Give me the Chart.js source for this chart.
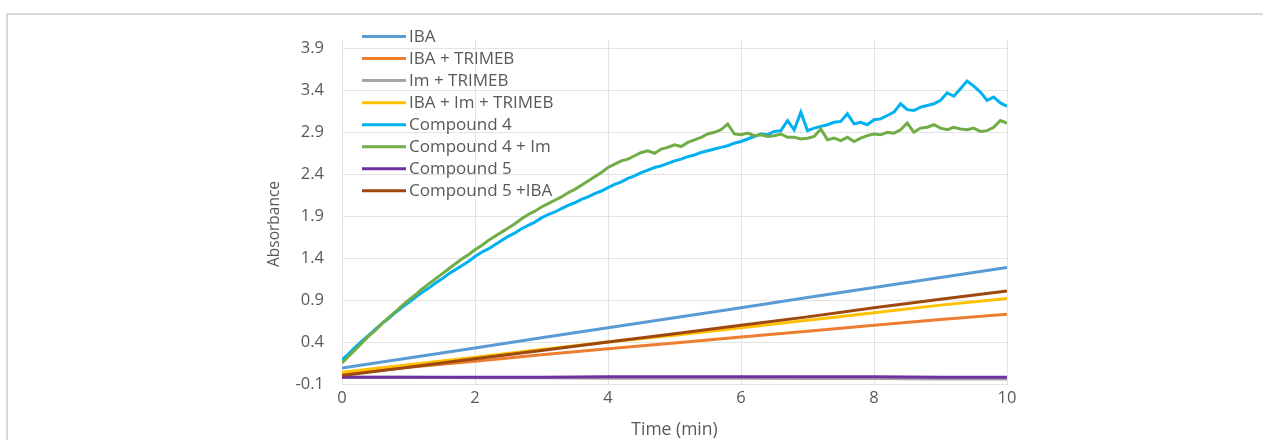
<!DOCTYPE html>
<html>
<head>
<meta charset="utf-8">
<script src="https://cdn.jsdelivr.net/npm/chart.js@4.4.1/dist/chart.umd.min.js"></script>
<style>
html,body{margin:0;padding:0;background:#fff;width:1263px;height:440px;overflow:hidden;}
#frame{position:absolute;left:6px;top:13px;width:1400px;height:600px;border:2px solid #d9d9d9;box-sizing:border-box;}
#wrap{position:absolute;left:0;top:0;width:1263px;height:440px;}
</style>
</head>
<body>
<div id="frame"></div>
<div id="wrap"><canvas id="c" width="1263" height="440"></canvas></div>
<script>
// ---- DATA ----
const seriesNames = ["IBA","IBA + TRIMEB","Im + TRIMEB","IBA + Im + TRIMEB","Compound 4","Compound 4 + Im","Compound 5","Compound 5 +IBA"];
const seriesColors = ["#5B9BD5","#ED7D31","#A5A5A5","#FFC000","#00B0F0","#70AD47","#7030A0","#9E480E"];
const xTitle = "Time (min)";
const yTitle = "Absorbance";

const timeCoarse = [0,1,2,3,4,5,6,7,8,9,10];
const iba        = [0.09,0.21,0.33,0.45,0.57,0.69,0.81,0.93,1.05,1.17,1.29];
const ibaTrimeb  = [0.02,0.10,0.17,0.25,0.32,0.39,0.46,0.53,0.60,0.67,0.73];
const imTrimeb   = [-0.02,-0.02,-0.025,-0.025,-0.03,-0.03,-0.03,-0.035,-0.035,-0.04,-0.04];
const ibaImTrimeb= [0.04,0.13,0.22,0.31,0.40,0.48,0.57,0.66,0.75,0.84,0.92];
const compound5  = [-0.02,-0.02,-0.02,-0.02,-0.015,-0.015,-0.015,-0.015,-0.015,-0.02,-0.02];
const compound5Iba=[0.00,0.10,0.20,0.30,0.40,0.50,0.60,0.70,0.81,0.91,1.01];

const timeFine = [0,0.1,0.2,0.3,0.4,0.5,0.6,0.7,0.8,0.9,1,1.1,1.2,1.3,1.4,1.5,1.6,1.7,1.8,1.9,2,2.1,2.2,2.3,2.4,2.5,2.6,2.7,2.8,2.9,3,3.1,3.2,3.3,3.4,3.5,3.6,3.7,3.8,3.9,4,4.1,4.2,4.3,4.4,4.5,4.6,4.7,4.8,4.9,5,5.1,5.2,5.3,5.4,5.5,5.6,5.7,5.8,5.9,6,6.1,6.2,6.3,6.4,6.5,6.6,6.7,6.8,6.9,7,7.1,7.2,7.3,7.4,7.5,7.6,7.7,7.8,7.9,8,8.1,8.2,8.3,8.4,8.5,8.6,8.7,8.8,8.9,9,9.1,9.2,9.3,9.4,9.5,9.6,9.7,9.8,9.9,10];
const compound4 = [0.19,0.26,0.34,0.41,0.48,0.55,0.62,0.68,0.75,0.81,0.87,0.93,0.99,1.04,1.10,1.15,1.21,1.26,1.31,1.36,1.42,1.47,1.51,1.56,1.61,1.66,1.70,1.75,1.79,1.83,1.88,1.92,1.95,1.99,2.03,2.06,2.10,2.13,2.17,2.20,2.24,2.28,2.31,2.35,2.38,2.42,2.45,2.48,2.50,2.53,2.56,2.58,2.61,2.63,2.66,2.68,2.70,2.72,2.74,2.77,2.79,2.82,2.85,2.88,2.87,2.91,2.92,3.04,2.93,3.14,2.92,2.95,2.97,2.99,3.02,3.03,3.12,3.00,3.02,2.99,3.05,3.06,3.10,3.14,3.24,3.17,3.16,3.20,3.22,3.24,3.28,3.37,3.33,3.42,3.51,3.45,3.38,3.28,3.32,3.25,3.21];
const compound4Im = [0.15,0.23,0.31,0.39,0.47,0.54,0.62,0.69,0.76,0.83,0.90,0.96,1.03,1.09,1.15,1.21,1.27,1.33,1.39,1.44,1.50,1.55,1.61,1.66,1.71,1.76,1.81,1.87,1.92,1.96,2.01,2.05,2.09,2.13,2.18,2.22,2.27,2.32,2.37,2.42,2.48,2.52,2.56,2.58,2.62,2.66,2.68,2.65,2.70,2.72,2.75,2.73,2.78,2.81,2.84,2.88,2.90,2.93,3.00,2.88,2.87,2.89,2.86,2.87,2.85,2.86,2.88,2.84,2.84,2.82,2.83,2.85,2.94,2.81,2.83,2.80,2.84,2.79,2.83,2.86,2.88,2.87,2.90,2.89,2.93,3.01,2.90,2.95,2.96,2.99,2.95,2.93,2.96,2.94,2.93,2.95,2.91,2.92,2.96,3.04,3.01];

const yTicks = [-0.1,0.4,0.9,1.4,1.9,2.4,2.9,3.4,3.9];
const xTicks = [0,2,4,6,8,10];

// ---- BUILD ----
const seriesData = [
  [timeCoarse, iba],
  [timeCoarse, ibaTrimeb],
  [timeCoarse, imTrimeb],
  [timeCoarse, ibaImTrimeb],
  [timeFine, compound4],
  [timeFine, compound4Im],
  [timeCoarse, compound5],
  [timeCoarse, compound5Iba]
];
const toXY = (xs, ys) => xs.map((x, i) => ({x: x, y: ys[i]}));
const datasets = seriesNames.map((name, i) => ({
  label: name,
  data: toXY(seriesData[i][0], seriesData[i][1]),
  borderColor: seriesColors[i],
  backgroundColor: seriesColors[i],
  borderWidth: 3,
  pointRadius: 0,
  tension: 0,
  fill: false,
  order: seriesNames.length - i
}));

const FONT = "'Open Sans', 'Noto Sans', sans-serif";
const TEXT = "#595959";
const GRID = "#e3e3e3";

const legendPlugin = {
  id: 'customLegend',
  afterDraw(chart) {
    const ctx = chart.ctx;
    ctx.save();
    ctx.font = "17px " + FONT;
    ctx.textBaseline = 'middle';
    ctx.textAlign = 'left';
    chart.data.datasets.forEach((ds, i) => {
      const y = 36.5 + i * 22.05;
      ctx.strokeStyle = ds.borderColor;
      ctx.lineWidth = 3;
      ctx.beginPath();
      ctx.moveTo(362, y);
      ctx.lineTo(406, y);
      ctx.stroke();
      ctx.fillStyle = TEXT;
      ctx.fillText(ds.label, 409, y + 0.5);
    });
    // y axis title
    ctx.translate(275, 224);
    ctx.rotate(-Math.PI / 2);
    ctx.textAlign = 'center';
    ctx.font = "15.5px " + FONT;
    ctx.fillText(yTitle, 0, 0);
    ctx.restore();
  }
};

new Chart(document.getElementById('c'), {
  type: 'line',
  data: { datasets: datasets },
  plugins: [legendPlugin],
  options: {
    responsive: false,
    animation: false,
    events: [],
    layout: { padding: { left: 262, right: 256, top: 40, bottom: 0 } },
    plugins: { legend: { display: false }, tooltip: { enabled: false } },
    scales: {
      x: {
        type: 'linear',
        min: 0, max: 10,
        afterBuildTicks: (axis) => { axis.ticks = xTicks.map(v => ({value: v})); },
        afterFit: (scale) => { scale.height = 56; },
        grid: { color: GRID, drawTicks: false, lineWidth: 1 },
        border: { color: GRID, width: 1 },
        ticks: { color: TEXT, font: { size: 16.5, family: FONT }, padding: 4 },
        title: { display: true, text: xTitle, color: TEXT, font: { size: 17.5, family: FONT, lineHeight: 1 }, padding: { top: 0, bottom: 1 } }
      },
      y: {
        type: 'linear',
        min: -0.1, max: 4.0,
        afterBuildTicks: (axis) => { axis.ticks = yTicks.map(v => ({value: v})); },
        afterFit: (scale) => { scale.width = 80; },
        grid: { color: GRID, drawTicks: false, lineWidth: 1 },
        border: { color: GRID, width: 1 },
        ticks: { color: TEXT, font: { size: 16.5, family: FONT }, padding: 18, callback: (v) => v.toFixed(1) },
        title: { display: false }
      }
    }
  }
});
</script>
</body>
</html>
